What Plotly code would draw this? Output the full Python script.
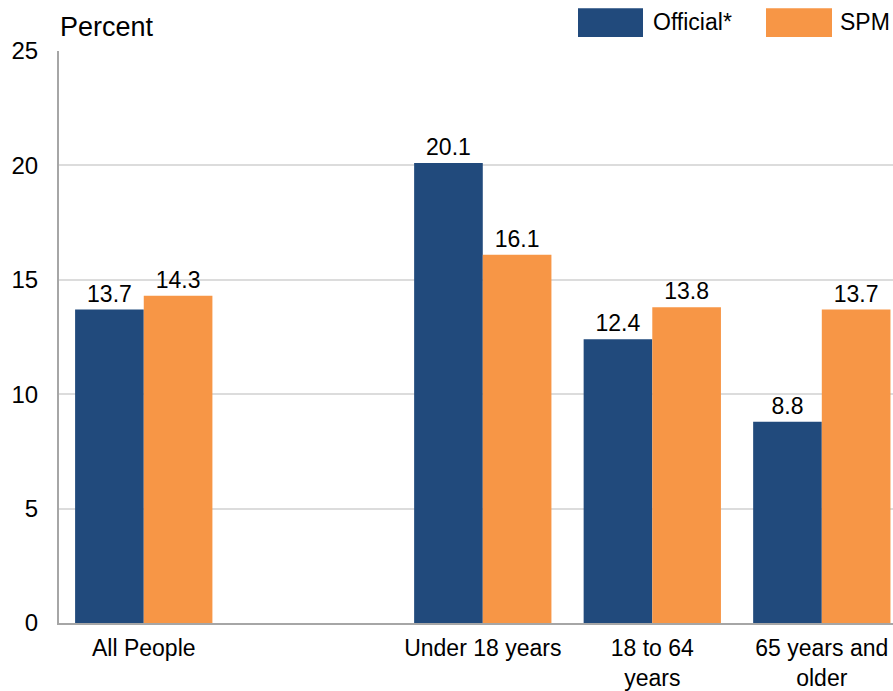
import plotly.graph_objects as go

categories = ["All People", "Under 18 years", "18 to 64<br>years", "65 years and<br>older"]
positions = [0, 2, 3, 4]
official = [13.7, 20.1, 12.4, 8.8]
spm = [14.3, 16.1, 13.8, 13.7]
y_ticks = [0, 5, 10, 15, 20, 25]

NAVY = "#214A7C"
ORANGE = "#F79646"
FONT = "Liberation Sans, Arial, sans-serif"

fig = go.Figure()
fig.add_trace(go.Bar(x=positions, y=official, name="Official*", marker_color=NAVY,
                     marker_line_width=0,
                     text=[f"{v:.1f}" for v in official], textposition="outside",
                     textfont=dict(size=23, color="#000000", family=FONT),
                     cliponaxis=False, showlegend=False))
fig.add_trace(go.Bar(x=positions, y=spm, name="SPM", marker_color=ORANGE,
                     marker_line_width=0,
                     text=[f"{v:.1f}" for v in spm], textposition="outside",
                     textfont=dict(size=23, color="#000000", family=FONT),
                     cliponaxis=False, showlegend=False))

W, H = 893, 691
ml, mr, mt, mb = 59, 0, 51, 66
pw, ph = W - ml - mr, H - mt - mb

def px(x):
    return (x - ml) / pw

def py(y):
    return (H - mb - y) / ph

shapes = [
    dict(type="rect", xref="paper", yref="paper", x0=px(578), x1=px(643), y0=py(37), y1=py(8),
         fillcolor=NAVY, line_width=0),
    dict(type="rect", xref="paper", yref="paper", x0=px(766), x1=px(832), y0=py(37), y1=py(8),
         fillcolor=ORANGE, line_width=0),
]
annotations = [
    dict(text="Official*", xref="paper", yref="paper", x=px(651), y=py(22), xanchor="left",
         yanchor="middle", showarrow=False, font=dict(size=23, family=FONT, color="#000000")),
    dict(text="SPM", xref="paper", yref="paper", x=px(838), y=py(22), xanchor="left",
         yanchor="middle", showarrow=False, font=dict(size=23, family=FONT, color="#000000")),
    dict(text="Percent", xref="paper", yref="paper", x=px(58), y=py(27), xanchor="left",
         yanchor="middle", showarrow=False, font=dict(size=27, family=FONT, color="#000000")),
]

fig.update_layout(
    width=W, height=H,
    margin=dict(l=ml, r=mr, t=mt, b=mb),
    paper_bgcolor="white", plot_bgcolor="white",
    barmode="group", bargap=0.19, bargroupgap=0,
    font=dict(family=FONT, size=23, color="#000000"),
    shapes=shapes, annotations=annotations,
    xaxis=dict(range=[-0.5, 4.42], tickvals=positions, ticktext=categories,
               showgrid=False, zeroline=False, showline=True, linecolor="#A6A6A6", linewidth=2,
               ticks="", ticklabelstandoff=3,
               tickfont=dict(size=23, family=FONT, color="#000000")),
    yaxis=dict(range=[0, 25], tickvals=y_ticks, showgrid=True, gridcolor="#DCDCDC", gridwidth=2,
               zeroline=False, showline=True, linecolor="#A6A6A6", linewidth=2,
               ticks="", ticklabelstandoff=14,
               tickfont=dict(size=24, family=FONT, color="#000000")),
)

fig.write_html("out.html")
